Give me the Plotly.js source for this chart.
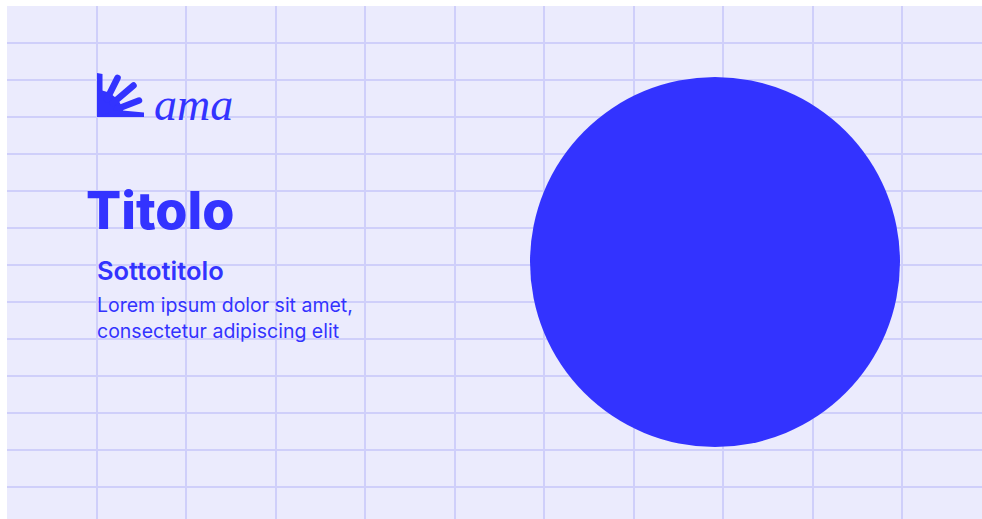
<!DOCTYPE html>
<html>
<head>
<meta charset="utf-8">
<script src="https://cdn.plot.ly/plotly-3.0.1.min.js"></script>
<style>html,body{margin:0;padding:0;background:#fff;}#chart{width:982px;height:519px;}</style>
</head>
<body>
<div id="chart"></div>
<script>
// ---- data ----
const sliceLabels = ["Totale"];
const sliceValues = [100];
const sliceColors = ["#3333FF"];
const brandText = "ama";
const titleText = "Titolo";
const subtitleText = "Sottotitolo";
const bodyLines = ["Lorem ipsum dolor sit amet,", "consectetur adipiscing elit"];

// ---- layout helpers (pixel -> paper) ----
const W = 982, H = 519, ML = 7, MT = 6, MR = 0, MB = 0;
const PW = W - ML - MR, PH = H - MT - MB;
const px = x => (x - ML) / PW;
const py = y => (H - MB - y) / PH;
const CELL_W = 89.5, CELL_H = 37;

const BLUE = "#3333FF";

const handSvg = '<svg xmlns="http://www.w3.org/2000/svg" viewBox="0 0 47 44">' +
  '<g fill="' + BLUE + '" stroke="' + BLUE + '" stroke-linecap="round" stroke-width="6.5">' +
  '<path stroke="none" d="M0,0 L5.5,1 L5.5,44 L0,44 Z"/>' +
  '<path stroke="none" d="M0,44 L0,17 A27,27 0 0 1 27,44 Z"/>' +
  '<line x1="10" y1="26" x2="20.5" y2="5"/>' +
  '<line x1="16" y1="30" x2="36.5" y2="12.5"/>' +
  '<line x1="20" y1="36" x2="42" y2="27.5"/>' +
  '<path stroke="none" d="M0,44 L47,44 L47,39.5 L20,37 Z"/>' +
  '</g></svg>';

const traces = [
  {type: "scatter", x: [], y: [], showlegend: false, hoverinfo: "skip"},
  {
    type: "pie",
    labels: sliceLabels,
    values: sliceValues,
    marker: {colors: sliceColors, line: {width: 0}},
    textinfo: "none",
    hoverinfo: "label+value",
    sort: false,
    showlegend: false,
    domain: {x: [px(530), px(900)], y: [py(447), py(77)]}
  }
];

const layout = {
  width: W, height: H,
  margin: {l: ML, r: MR, t: MT, b: MB, pad: 0},
  paper_bgcolor: "#FFFFFF",
  plot_bgcolor: "#EBEBFD",
  showlegend: false,
  xaxis: {range: [0, PW / CELL_W], tick0: 0, dtick: 1, showgrid: true, gridcolor: "#CFCFFA", gridwidth: 2,
          zeroline: false, showline: false, showticklabels: false, ticks: "", fixedrange: true},
  yaxis: {range: [PH / CELL_H, 0], tick0: 0, dtick: 1, showgrid: true, gridcolor: "#CFCFFA", gridwidth: 2,
          zeroline: false, showline: false, showticklabels: false, ticks: "", fixedrange: true},
  images: [{
    source: "data:image/svg+xml;charset=utf-8," + encodeURIComponent(handSvg),
    xref: "paper", yref: "paper", x: px(97), y: py(73), sizex: 47 / PW, sizey: 44 / PH,
    xanchor: "left", yanchor: "top", sizing: "stretch", layer: "above"
  }],
  annotations: [
    {text: brandText, xref: "paper", yref: "paper", x: px(152), y: py(104), xanchor: "left", yanchor: "middle",
     showarrow: false, font: {family: "Liberation Serif", size: 46, color: BLUE, style: "italic"}},
    {text: titleText, xref: "paper", yref: "paper", x: px(84), y: py(210), xanchor: "left", yanchor: "middle",
     showarrow: false, font: {family: "Inter", size: 52, color: BLUE, weight: 800}},
    {text: subtitleText, xref: "paper", yref: "paper", x: px(95), y: py(270), xanchor: "left", yanchor: "middle",
     showarrow: false, font: {family: "Inter", size: 25.5, color: BLUE, weight: 600}},
    {text: bodyLines[0], xref: "paper", yref: "paper", x: px(95), y: py(305), xanchor: "left", yanchor: "middle",
     showarrow: false, font: {family: "Inter", size: 19.5, color: BLUE}},
    {text: bodyLines[1], xref: "paper", yref: "paper", x: px(95), y: py(331), xanchor: "left", yanchor: "middle",
     showarrow: false, font: {family: "Inter", size: 19.5, color: BLUE}}
  ]
};

Plotly.newPlot("chart", traces, layout, {displayModeBar: false, staticPlot: true});
</script>
</body>
</html>
